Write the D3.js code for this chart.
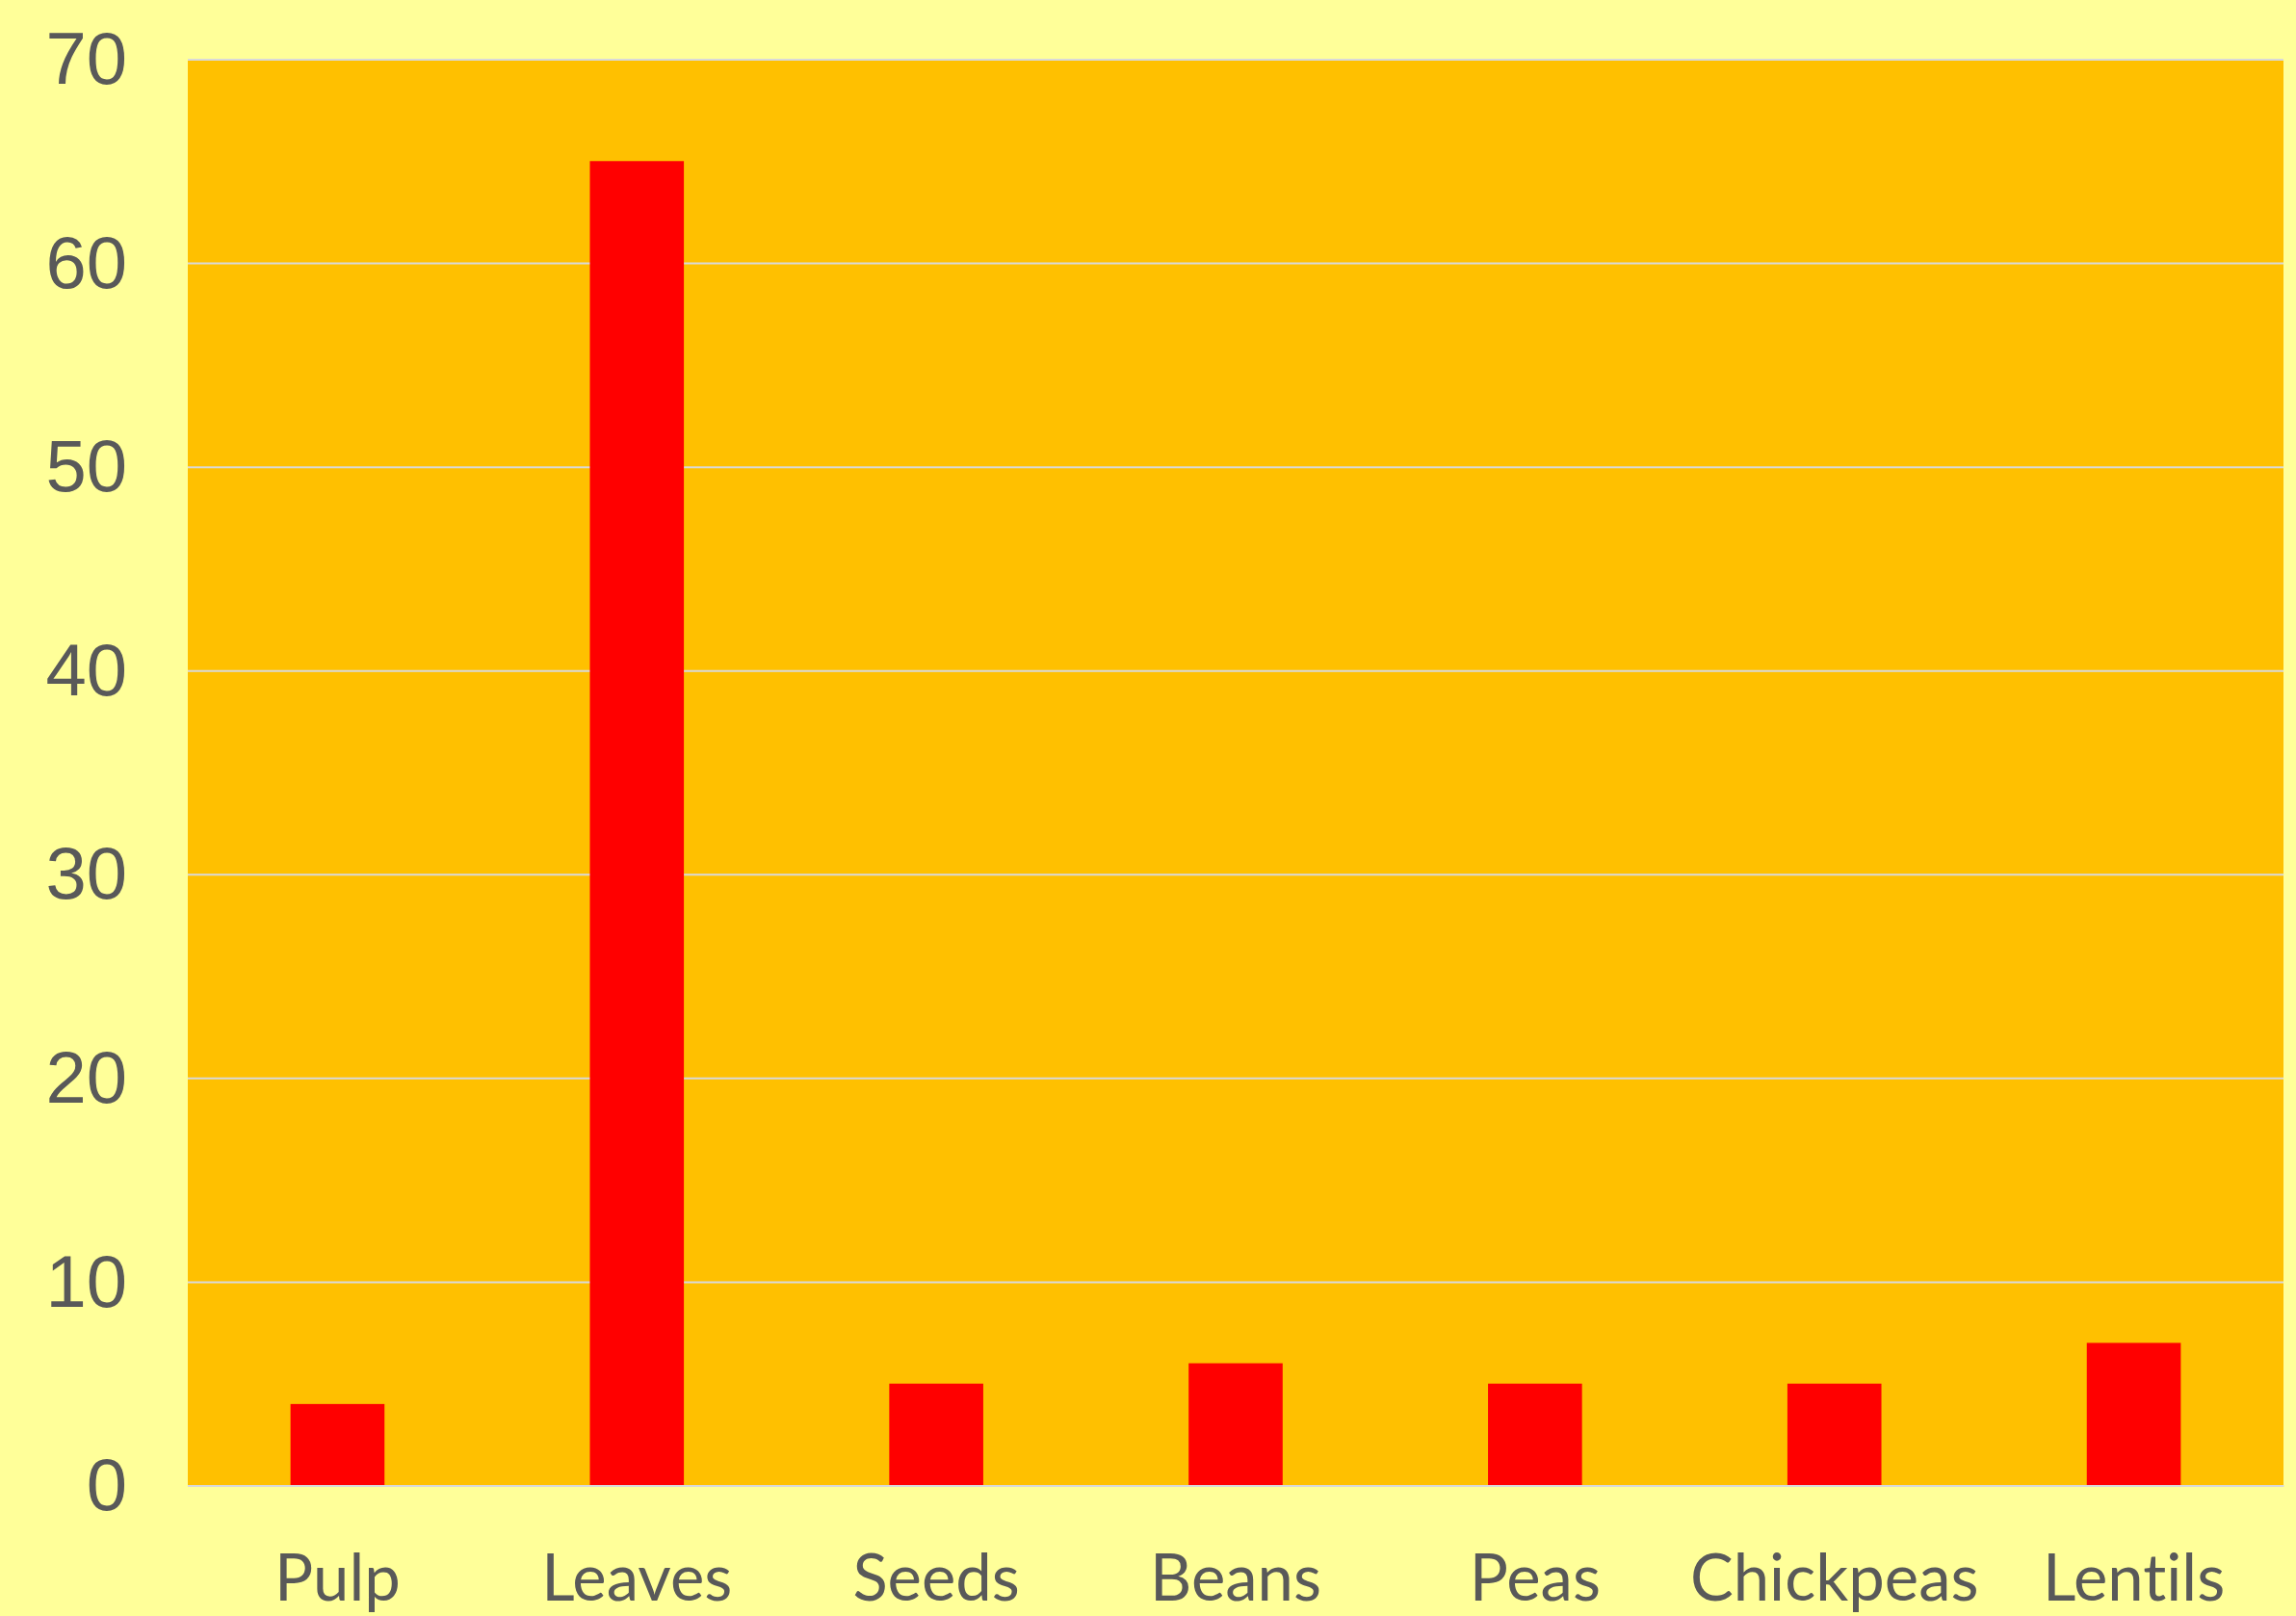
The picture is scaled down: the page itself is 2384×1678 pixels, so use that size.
<!DOCTYPE html>
<html>
<head>
<meta charset="utf-8">
<script src="https://cdn.jsdelivr.net/npm/d3@7"></script>
<style>
  html, body { margin: 0; padding: 0; background: #FFFF99; }
  svg { display: block; }
  text { font-variant-ligatures: none; font-feature-settings: "liga" 0, "clig" 0; }
</style>
</head>
<body>
<svg id="chart" width="2384" height="1678"></svg>
<script>
// Categories and their values
const categories = ["Pulp", "Leaves", "Seeds", "Beans", "Peas", "Chickpeas", "Lentils"];
const values = [4, 65, 5, 6, 5, 5, 7];
const yTicks = [0, 10, 20, 30, 40, 50, 60, 70];

const W = 2384, H = 1678;
const plot = { left: 195, right: 2371, top: 61.5, bottom: 1542.5 };

const svg = d3.select("#chart");

svg.append("rect")
  .attr("width", W).attr("height", H)
  .attr("fill", "#FFFF99");

const x = d3.scaleBand()
  .domain(categories)
  .range([plot.left, plot.right])
  .paddingInner(0.686)
  .paddingOuter(0.343);

const y = d3.scaleLinear()
  .domain([0, 70])
  .range([plot.bottom, plot.top]);

// Plot area
svg.append("rect")
  .attr("x", plot.left).attr("y", plot.top)
  .attr("width", plot.right - plot.left)
  .attr("height", plot.bottom - plot.top)
  .attr("fill", "#FFC000");

// Horizontal gridlines with value labels
const yAxis = d3.axisLeft(y)
  .tickValues(yTicks)
  .tickSize(-(plot.right - plot.left))
  .tickPadding(63)
  .tickFormat(d3.format("d"));

const gy = svg.append("g")
  .attr("transform", `translate(${plot.left},0)`)
  .call(yAxis);
gy.select(".domain").remove();
gy.selectAll(".tick line")
  .attr("stroke", "#D9D9D9")
  .attr("stroke-width", 2);
gy.selectAll(".tick text")
  .attr("fill", "#595959")
  .attr("font-family", "'Liberation Sans', Arial, sans-serif")
  .attr("font-size", 76)
  .attr("dy", "0.33em");

// Bars
svg.append("g")
  .selectAll("rect")
  .data(categories.map((c, i) => ({ c, v: values[i] })))
  .join("rect")
  .attr("x", d => x(d.c))
  .attr("width", x.bandwidth())
  .attr("y", d => y(d.v))
  .attr("height", d => y(0) - y(d.v))
  .attr("fill", "#FF0000");

// Category axis
const xAxis = d3.axisBottom(x).tickSize(0).tickPadding(0);
const gx = svg.append("g")
  .attr("transform", `translate(0,${plot.bottom})`)
  .call(xAxis);
gx.select(".domain")
  .attr("stroke", "#D9D9D9")
  .attr("stroke-width", 2);
gx.selectAll(".tick text")
  .attr("fill", "#595959")
  .attr("font-family", "Lato, 'Open Sans', sans-serif")
  .attr("font-size", 67)
  .attr("dy", null)
  .attr("y", 1662 - plot.bottom);
</script>
</body>
</html>
